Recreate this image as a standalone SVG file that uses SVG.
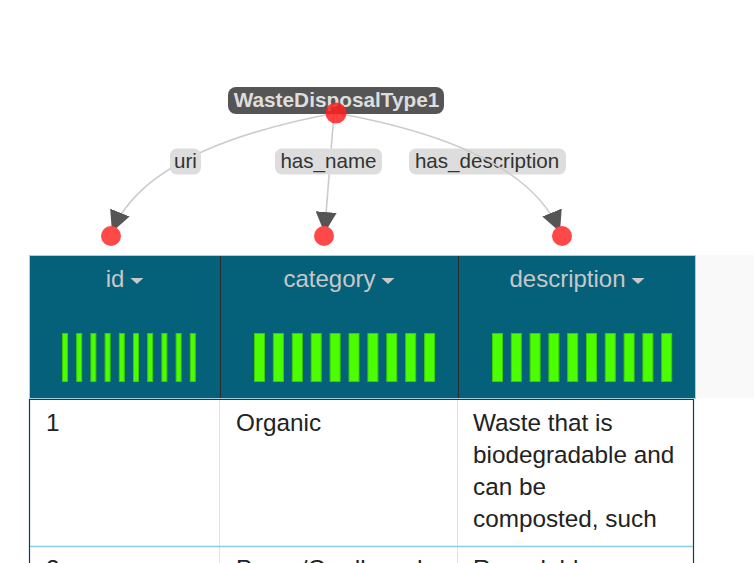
<svg xmlns="http://www.w3.org/2000/svg" width="754" height="563" viewBox="0 0 754 563">
<defs>
<marker id="arr" viewBox="0 0 10 10" refX="10" refY="5" markerUnits="userSpaceOnUse" markerWidth="21" markerHeight="21" orient="auto">
<path d="M0,0 L10,5 L0,10 z" fill="#555"/>
</marker>
<style>
.edge{fill:none;stroke:#cccccc;stroke-width:1.6;marker-end:url(#arr)}
.elbl{fill:#dddddd}
.etxt{font-family:"Liberation Sans",Arial,sans-serif;font-size:20.6px;fill:#333;text-anchor:middle}
.src{fill:#ff2020;fill-opacity:0.85}
.tgt{fill:#ff4848}
.htxt{font-family:"Liberation Sans",Arial,sans-serif;font-size:24px;fill:#c8c8c8}
.tri{fill:#c8c8c8}
.bar{fill:#4cff00;stroke:#3ccc00;stroke-width:1}
.btxt{font-family:"Liberation Sans",Arial,sans-serif;font-size:24.3px;fill:#222}
</style>
</defs>
<rect width="754" height="563" fill="#ffffff"/>

<g id="connectors">
<path class="edge" d="M336,113 Q146,148 112,232"/>
<rect class="elbl" x="170" y="148.5" width="31" height="26" rx="7"/>
<text class="etxt" x="185.5" y="168">uri</text>
<path class="edge" d="M334,113 L324.5,233"/>
<rect class="elbl" x="275" y="148.5" width="107" height="26" rx="7"/>
<text class="etxt" x="328.5" y="168">has_name</text>
<rect class="elbl" x="409" y="148.5" width="157" height="26" rx="7"/>
<text class="etxt" x="487" y="168">has_description</text>
<path class="edge" d="M336,113 Q525,147 560,232"/>
</g>

<g id="node-WasteDisposalType1">
<rect x="228" y="87" width="216" height="27" rx="8" fill="#555555"/>
<text x="336.5" y="107" text-anchor="middle" font-family="Liberation Sans, Arial, sans-serif" font-size="20.8" font-weight="bold" fill="#dddddd">WasteDisposalType1</text>
<circle class="src" cx="336" cy="113" r="10.5"/>
</g>

<g id="node-id-dot"><circle class="tgt" cx="111" cy="236" r="10"/></g>
<g id="node-category-dot"><circle class="tgt" cx="324" cy="236" r="10"/></g>
<g id="node-description-dot"><circle class="tgt" cx="562" cy="236" r="10"/></g>

<g id="table">
<rect x="696" y="255" width="58" height="143" fill="#f9f9f9"/>
<rect x="29.5" y="255.5" width="666" height="143" fill="#05607a" stroke="#9fd3e3" stroke-width="1"/>
<line x1="220.5" y1="256" x2="220.5" y2="398" stroke="#2a2a2a" stroke-width="1"/>
<line x1="458.5" y1="256" x2="458.5" y2="398" stroke="#2a2a2a" stroke-width="1"/>

<g id="col-id">
<text class="htxt" x="105.7" y="287">id</text>
<polygon class="tri" points="130.4,278 143.4,278 136.9,284"/>
<g>
<rect class="bar" x="62.5" y="333.5" width="5" height="48"/>
<rect class="bar" x="76.7" y="333.5" width="5" height="48"/>
<rect class="bar" x="90.9" y="333.5" width="5" height="48"/>
<rect class="bar" x="105.1" y="333.5" width="5" height="48"/>
<rect class="bar" x="119.3" y="333.5" width="5" height="48"/>
<rect class="bar" x="133.5" y="333.5" width="5" height="48"/>
<rect class="bar" x="147.7" y="333.5" width="5" height="48"/>
<rect class="bar" x="161.9" y="333.5" width="5" height="48"/>
<rect class="bar" x="176.1" y="333.5" width="5" height="48"/>
<rect class="bar" x="190.3" y="333.5" width="5" height="48"/>
</g>
</g>

<g id="col-category">
<text class="htxt" x="283.5" y="287">category</text>
<polygon class="tri" points="381.5,278 394.5,278 388,284"/>
<g>
<rect class="bar" x="254.5" y="333.5" width="10" height="48"/>
<rect class="bar" x="273.4" y="333.5" width="10" height="48"/>
<rect class="bar" x="292.3" y="333.5" width="10" height="48"/>
<rect class="bar" x="311.2" y="333.5" width="10" height="48"/>
<rect class="bar" x="330.1" y="333.5" width="10" height="48"/>
<rect class="bar" x="349" y="333.5" width="10" height="48"/>
<rect class="bar" x="367.9" y="333.5" width="10" height="48"/>
<rect class="bar" x="386.8" y="333.5" width="10" height="48"/>
<rect class="bar" x="405.7" y="333.5" width="10" height="48"/>
<rect class="bar" x="424.6" y="333.5" width="10" height="48"/>
</g>
</g>

<g id="col-description">
<text class="htxt" x="509.5" y="287">description</text>
<polygon class="tri" points="631.5,278 644.5,278 638,284"/>
<g>
<rect class="bar" x="492.5" y="333.5" width="10" height="48"/>
<rect class="bar" x="511.3" y="333.5" width="10" height="48"/>
<rect class="bar" x="530.1" y="333.5" width="10" height="48"/>
<rect class="bar" x="548.9" y="333.5" width="10" height="48"/>
<rect class="bar" x="567.7" y="333.5" width="10" height="48"/>
<rect class="bar" x="586.5" y="333.5" width="10" height="48"/>
<rect class="bar" x="605.3" y="333.5" width="10" height="48"/>
<rect class="bar" x="624.1" y="333.5" width="10" height="48"/>
<rect class="bar" x="642.9" y="333.5" width="10" height="48"/>
<rect class="bar" x="661.7" y="333.5" width="10" height="48"/>
</g>
</g>

<g id="body">
<rect x="29.5" y="399.5" width="664" height="170" fill="#ffffff" stroke="none"/>
<line x1="29" y1="399.5" x2="694" y2="399.5" stroke="#0d3f4f" stroke-width="1.2"/>
<line x1="29.5" y1="399" x2="29.5" y2="563" stroke="#0d3f4f" stroke-width="1.2"/>
<line x1="693.5" y1="399" x2="693.5" y2="563" stroke="#0d3f4f" stroke-width="1.2"/>
<line x1="219.5" y1="400" x2="219.5" y2="563" stroke="#d3e9f0" stroke-width="1"/>
<line x1="457.5" y1="400" x2="457.5" y2="563" stroke="#d3e9f0" stroke-width="1"/>
<line x1="30" y1="546.5" x2="693" y2="546.5" stroke="#8ccde0" stroke-width="1.5"/>
<text class="btxt" x="46" y="431">1</text>
<text class="btxt" x="236" y="431">Organic</text>
<text class="btxt" x="473" y="431">Waste that is</text>
<text class="btxt" x="473" y="463">biodegradable and</text>
<text class="btxt" x="473" y="495">can be</text>
<text class="btxt" x="473" y="527">composted, such</text>
<text class="btxt" x="46" y="577">2</text>
<text class="btxt" x="236" y="577">Paper/Cardboard</text>
<text class="btxt" x="473" y="577">Recyclable</text>
</g>
</g>
</svg>
